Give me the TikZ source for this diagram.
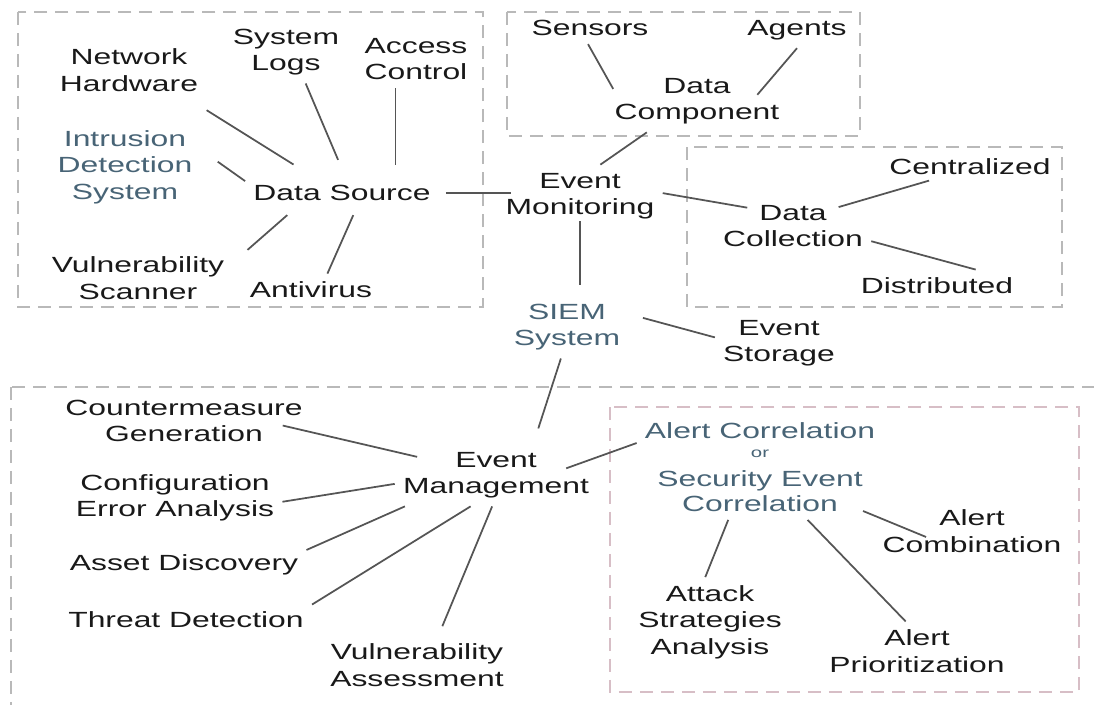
\documentclass[tikz,border=0pt]{standalone}
\usepackage{fontspec}
\setmainfont{Liberation Sans}[FakeStretch=1.45]

\definecolor{txtgray}{RGB}{25,25,25}
\definecolor{slate}{RGB}{72,100,118}
\definecolor{linkgray}{RGB}{85,85,85}
\definecolor{dashgray}{RGB}{185,185,185}
\definecolor{dashpink}{RGB}{215,190,198}

\begin{document}
\begin{tikzpicture}[
    x=0.02cm, y=-0.02cm,
    every node/.style={align=center,text=txtgray,inner xsep=0.16cm,inner ysep=0.16cm,
        font=\fontsize{12.5}{15}\selectfont},
    accent/.style={text=slate},
    link/.style={draw=linkgray,line width=1pt},
    group/.style={draw=dashgray,line width=1pt,dash pattern=on 0.26cm off 0.16cm},
    alertgroup/.style={group,draw=dashpink}
]
    \useasboundingbox (0,0) rectangle (1094,704);

    % Dashed groups
    \draw[group] (18,12) rectangle (483,307);
    \draw[group] (507,12) rectangle (860,136);
    \draw[group] (687,147) rectangle (1062,307);
    \draw[group] (11,387) rectangle (1110,712);
    \draw[alertgroup] (610,407) rectangle (1079,692);

    % Data sources
    \node (nh) at (129,70) {Network\\Hardware};
    \node (sl) at (286,52) {System\\Logs};
    \node (ac) at (416,59) {Access\\Control};
    \node[accent] (ids) at (125,167) {Intrusion\\Detection\\System};
    \node[inner ysep=0.28cm] (ds) at (342,193) {Data Source};
    \node (vs) at (138,278) {Vulnerability\\Scanner};
    \node (av) at (311,290) {Antivirus};

    \draw[link, shorten <=0.4cm, shorten >=0.24cm] (nh.-26) -- (ds.150);
    \draw[link, shorten >=0.24cm] (sl.-58) -- (ds.88);
    \draw[link, shorten >=0.12cm] (ac.-125) -- (ac.-125 |- ds.north);
    \draw[link, shorten <=0.42cm] (ids.13) -- (ds.173);
    \draw[link, shorten <=0.4cm] (vs.9) -- (ds.-158);
    \draw[link] (av.45) -- (ds.-63);

    %%%%%%%%%%%%%%%%%%%%%%%%%%%%%%%%%%%%%%%%%%%%%%%%%%%%%%%%%%%%%%%%%%%%%%%%%%%%%%%%%%%%

    % Event monitoring, data component and data collection
    \node (sen) at (590,28) {Sensors};
    \node (agt) at (797,30) {Agents};
    \node (dcomp) at (697,101) {Data\\Component};
    \node (em) at (580,196) {Event\\Monitoring};
    \node (cen) at (970,167) {Centralized};
    \node (dcoll) at (793,226) {Data\\Collection};
    \node (dis) at (937,286) {Distributed};

    \draw[link, shorten <=0.14cm, shorten >=-0.28cm] (ds.east) -- (ds.east -| em.west);
    \draw[link, shorten >=-0.28cm] (sen.-97) -- (dcomp.165);
    \draw[link, shorten >=-0.66cm] (agt.south) -- (dcomp.21);
    \draw[link] (dcomp.-148) -- (em.57);
    \draw[link, shorten >=-0.66cm] (em.2) -- (dcoll.163);
    \draw[link, shorten <=-0.2cm, shorten >=-0.68cm] (cen.-162) -- (dcoll.20);
    \draw[link] (dcoll.-11) -- (dis.23);

    %%%%%%%%%%%%%%%%%%%%%%%%%%%%%%%%%%%%%%%%%%%%%%%%%%%%%%%%%%%%%%%%%%%%%%%%%%%%%%%%%%%%

    % SIEM system
    \node[accent] (siem) at (567,327) {SIEM\\System};
    \node (es) at (779,343) {Event\\Storage};

    \draw[link, shorten <=-0.12cm, shorten >=0.22cm] (em.south) -- (em.south |- siem.north);
    \draw[link, shorten <=0.3cm] (siem.12) -- (es.175);

    %%%%%%%%%%%%%%%%%%%%%%%%%%%%%%%%%%%%%%%%%%%%%%%%%%%%%%%%%%%%%%%%%%%%%%%%%%%%%%%%%%%%

    % Event management
    \node (cm) at (184,421) {Countermeasure\\Generation};
    \node (emg) at (496,475) {Event\\Management};
    \node (cea) at (175,498) {Configuration\\Error Analysis};
    \node (ad) at (184,565) {Asset Discovery};
    \node (td) at (186,620) {Threat Detection};
    \node (va) at (417,665) {Vulnerability\\Assessment};

    \draw[link, shorten >=0.32cm] (siem.-101) -- (emg.40);
    \draw[link, shorten <=-0.58cm, shorten >=-0.46cm] (cm.-5) -- (emg.167);
    \draw[link] (cea.-2) -- (emg.185);
    \draw[link] (ad.7) -- (emg.-161);
    \draw[link] (td.7) -- (emg.-129);
    \draw[link, shorten <=0.2cm] (va.54) -- (emg.-97);

    %%%%%%%%%%%%%%%%%%%%%%%%%%%%%%%%%%%%%%%%%%%%%%%%%%%%%%%%%%%%%%%%%%%%%%%%%%%%%%%%%%%%

    % Alert correlation
    \node[accent] (acorr) at (760,467) {Alert Correlation\\[-4.2pt]{\fontsize{8}{9.6}\selectfont or}\\[1.5pt]Security Event\\[-0.8pt]Correlation};
    \node (acomb) at (972,531) {Alert\\Combination};
    \node (asa) at (710,622) {Attack\\Strategies\\Analysis};
    \node (ap) at (917,651) {Alert\\Prioritization};

    \draw[link, shorten <=-0.66cm] (emg.10) -- (acorr.169);
    \draw[link] (acorr.-121) -- (asa.96);
    \draw[link] (acorr.-48) -- (ap.111);
    \draw[link, shorten <=-0.44cm, shorten >=1.24cm] (acorr.-23) -- (acomb.-69);
\end{tikzpicture}
\end{document}
